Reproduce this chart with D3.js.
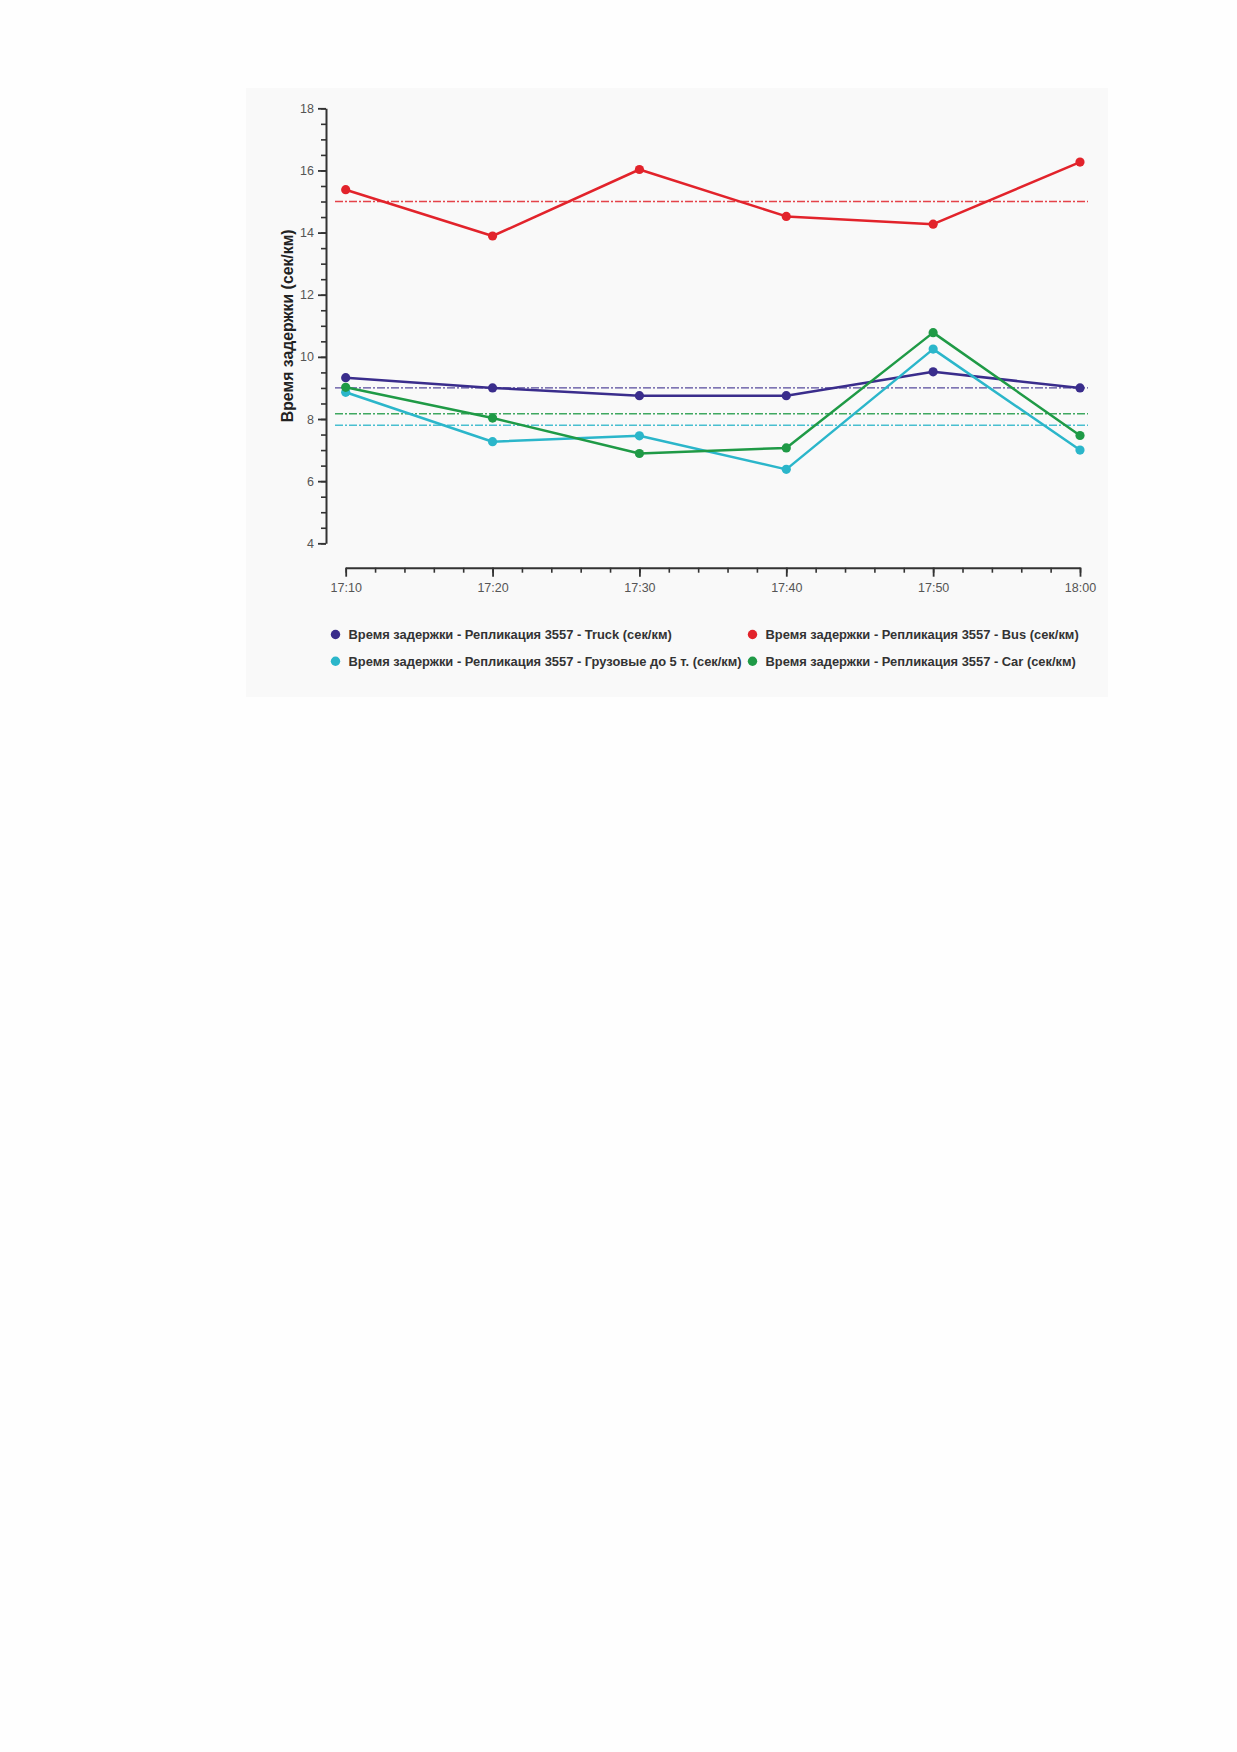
<!DOCTYPE html>
<html>
<head>
<meta charset="utf-8">
<script src="https://cdn.jsdelivr.net/npm/d3@7"></script>
<style>
  html, body { margin: 0; padding: 0; background: #fefefe; }
  svg { display: block; }
  text { font-family: "Liberation Sans", Arial, sans-serif; }
</style>
</head>
<body>
<svg id="chart" width="1237" height="1752"></svg>
<script>
// ---- data ----
const times = ["17:10", "17:20", "17:30", "17:40", "17:50", "18:00"];
const truckValues = [9.33, 9.0, 8.75, 8.75, 9.52, 9.0];
const busValues = [15.38, 13.89, 16.03, 14.52, 14.27, 16.27];
const cargoValues = [8.86, 7.27, 7.46, 6.38, 10.25, 7.0];
const carValues = [9.02, 8.03, 6.89, 7.07, 10.78, 7.47];
const averages = [9.0, 15.0, 7.8, 8.17]; // truck, bus, cargo, car
const seriesNames = [
  "Время задержки - Репликация 3557 - Truck (сек/км)",
  "Время задержки - Репликация 3557 - Bus (сек/км)",
  "Время задержки - Репликация 3557 - Грузовые до 5 т. (сек/км)",
  "Время задержки - Репликация 3557 - Car (сек/км)"
];
const seriesColors = ["#3a2d8c", "#e2232b", "#2bb6ca", "#1f9a46"];
const yTickValues = [4, 6, 8, 10, 12, 14, 16, 18];
const yAxisTitle = "Время задержки (сек/км)";

// ---- build ----
const parseTime = d3.timeParse("%H:%M");
const seriesValues = [truckValues, busValues, cargoValues, carValues];
const series = seriesValues.map((vals, i) => ({
  name: seriesNames[i],
  color: seriesColors[i],
  avg: averages[i],
  points: vals.map((v, j) => ({ t: parseTime(times[j]), v }))
}));

const svg = d3.select("#chart");

// panel background
svg.append("rect")
  .attr("x", 246).attr("y", 88)
  .attr("width", 862).attr("height", 609)
  .attr("fill", "#f9f9f9");

const x = d3.scaleTime()
  .domain([parseTime(times[0]), parseTime(times[times.length - 1])])
  .range([345.7, 1080]);
const y = d3.scaleLinear().domain([4, 18]).range([543.3, 108.3]);

const axisColor = "#333";

// y axis minor ticks
const yMinor = svg.append("g").attr("transform", "translate(326,0)")
  .call(d3.axisLeft(y).tickValues(d3.range(4, 18.01, 0.5)).tickSize(5).tickFormat(""));
yMinor.select(".domain").remove();
yMinor.selectAll("line").attr("stroke", axisColor).attr("stroke-width", 1.6);

// y axis major
const yAx = svg.append("g").attr("transform", "translate(326,0)")
  .call(d3.axisLeft(y).tickValues(yTickValues).tickSize(8).tickSizeOuter(0).tickPadding(4).tickFormat(d3.format("d")));
yAx.select(".domain").attr("stroke", axisColor).attr("stroke-width", 2);
yAx.selectAll("line").attr("stroke", axisColor).attr("stroke-width", 1.8);
yAx.selectAll("text").attr("fill", "#555").style("font-size", "12.5px");

// x axis minor ticks
const xMinor = svg.append("g").attr("transform", "translate(0,567.7)")
  .call(d3.axisBottom(x).ticks(d3.timeMinute.every(2)).tickSize(5).tickFormat(""));
xMinor.select(".domain").remove();
xMinor.selectAll("line").attr("stroke", axisColor).attr("stroke-width", 1.6);

// x axis major
const xAx = svg.append("g").attr("transform", "translate(0,567.7)")
  .call(d3.axisBottom(x).tickValues(times.map(parseTime)).tickSize(9).tickSizeOuter(0).tickPadding(6).tickFormat(d3.timeFormat("%H:%M")));
xAx.select(".domain").attr("stroke", axisColor).attr("stroke-width", 2);
xAx.selectAll("line").attr("stroke", axisColor).attr("stroke-width", 1.8);
xAx.selectAll("text").attr("fill", "#555").style("font-size", "12.5px");

// y axis title
svg.append("text")
  .attr("transform", `translate(293,${(y(4) + y(18)) / 2}) rotate(-90)`)
  .attr("text-anchor", "middle")
  .attr("fill", "#222")
  .style("font-size", "15.8px").style("font-weight", "bold")
  .text(yAxisTitle);

// average lines
series.forEach(s => {
  svg.append("line")
    .attr("x1", 335).attr("x2", 1088)
    .attr("y1", y(s.avg)).attr("y2", y(s.avg))
    .attr("stroke", s.color).attr("stroke-width", 1.3)
    .attr("stroke-dasharray", "8,2,2,2")
    .attr("opacity", 0.85);
});

// series lines and markers
const line = d3.line().x(d => x(d.t)).y(d => y(d.v));
series.forEach(s => {
  svg.append("path").datum(s.points)
    .attr("d", line).attr("fill", "none")
    .attr("stroke", s.color).attr("stroke-width", 2.5)
    .attr("stroke-linejoin", "round");
  svg.append("g").selectAll("circle").data(s.points).join("circle")
    .attr("cx", d => x(d.t)).attr("cy", d => y(d.v)).attr("r", 4.6)
    .attr("fill", s.color);
});

// legend
const legendPos = [[335.5, 634.5], [752.5, 634.5], [335.5, 661.3], [752.5, 661.3]];
series.forEach((s, i) => {
  const g = svg.append("g").attr("transform", `translate(${legendPos[i][0]},${legendPos[i][1]})`);
  g.append("circle").attr("r", 4.7).attr("fill", s.color);
  g.append("text").attr("x", 13).attr("dy", "0.35em")
    .attr("fill", "#333")
    .style("font-size", "12.9px").style("font-weight", "bold")
    .text(s.name);
});
</script>
</body>
</html>
